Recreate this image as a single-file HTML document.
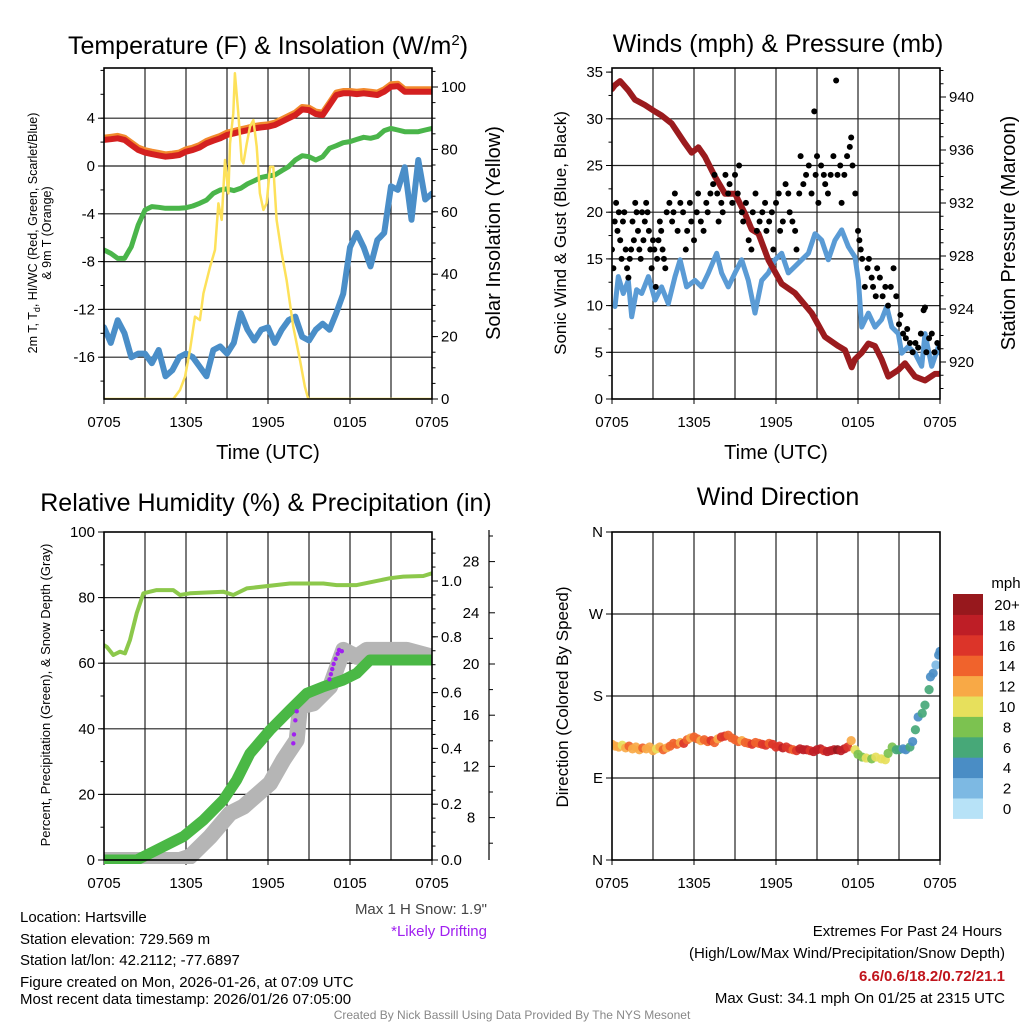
<!DOCTYPE html>
<html><head><meta charset="utf-8">
<style>
html,body{margin:0;padding:0;background:#fff;}
svg{display:block;font-family:"Liberation Sans",Arial,sans-serif;}
</style></head>
<body>
<svg id="root" width="1024" height="1024" viewBox="0 0 1024 1024" xmlns="http://www.w3.org/2000/svg">
<defs>
<clipPath id="c1"><rect x="104" y="68" width="328" height="331"/></clipPath>
<clipPath id="c2"><rect x="612" y="68" width="328" height="331"/></clipPath>
<clipPath id="c3"><rect x="104" y="527" width="328" height="337"/></clipPath>
<clipPath id="c4"><rect x="612" y="527" width="328" height="337"/></clipPath>
</defs>
<rect x="0" y="0" width="1024" height="1024" fill="#fff"/>
<g id="layer"></g>

<text x="268" y="54" font-size="25" text-anchor="middle">Temperature (F) &amp; Insolation (W/m<tspan dy="-9" font-size="15">2</tspan><tspan dy="9">)</tspan></text>
<text x="778" y="52" font-size="25" text-anchor="middle">Winds (mph) &amp; Pressure (mb)</text>
<text x="266" y="511" font-size="25" text-anchor="middle">Relative Humidity (%) &amp; Precipitation (in)</text>
<text x="778" y="505" font-size="25" text-anchor="middle">Wind Direction</text>

<text x="268" y="459" font-size="20" text-anchor="middle">Time (UTC)</text>
<text x="776" y="459" font-size="20" text-anchor="middle">Time (UTC)</text>

<text transform="translate(37,233) rotate(-90)" font-size="12.5" text-anchor="middle">2m T, T<tspan dy="3" font-size="9">d</tspan><tspan dy="-3">, HI/WC (Red, Green, Scarlet/Blue)</tspan></text>
<text transform="translate(51,233) rotate(-90)" font-size="12.5" text-anchor="middle">&amp; 9m T (Orange)</text>
<text transform="translate(500,233) rotate(-90)" font-size="20" text-anchor="middle">Solar Insolation (Yellow)</text>
<text transform="translate(566,233) rotate(-90)" font-size="17" text-anchor="middle">Sonic Wind &amp; Gust (Blue, Black)</text>
<text transform="translate(1015,233) rotate(-90)" font-size="20" text-anchor="middle">Station Pressure (Maroon)</text>
<text transform="translate(50,695) rotate(-90)" font-size="13" text-anchor="middle">Percent, Precipitation (Green), &amp; Snow Depth (Gray)</text>
<text transform="translate(568,697) rotate(-90)" font-size="17" text-anchor="middle">Direction (Colored By Speed)</text>

<text x="487" y="914" font-size="15" fill="#444" text-anchor="end">Max 1 H Snow: 1.9"</text>
<text x="487" y="936" font-size="15" fill="#a020f0" text-anchor="end">*Likely Drifting</text>

<g font-size="15">
<text x="20" y="922">Location: Hartsville</text>
<text x="20" y="944">Station elevation: 729.569 m</text>
<text x="20" y="965">Station lat/lon: 42.2112; -77.6897</text>
<text x="20" y="987">Figure created on Mon, 2026-01-26, at 07:09 UTC</text>
<text x="20" y="1004">Most recent data timestamp: 2026/01/26 07:05:00</text>
</g>
<g font-size="15" text-anchor="end">
<text x="1002" y="936">Extremes For Past 24 Hours</text>
<text x="1005" y="958">(High/Low/Max Wind/Precipitation/Snow Depth)</text>
<text x="1005" y="981" fill="#c0141c" font-weight="bold">6.6/0.6/18.2/0.72/21.1</text>
<text x="1005" y="1003">Max Gust: 34.1 mph On 01/25 at 2315 UTC</text>
</g>
<text x="512" y="1019" font-size="12" fill="#888" text-anchor="middle">Created By Nick Bassill Using Data Provided By The NYS Mesonet</text>
</svg>

<script>
// ---------- Data ----------
const halfHours = [0,0.5,1,1.5,2,2.5,3,3.5,4,4.5,5,5.5,6,6.5,7,7.5,8,8.5,9,9.5,10,10.5,11,11.5,12,12.5,13,13.5,14,14.5,15,15.5,16,16.5,17,17.5,18,18.5,19,19.5,20,20.5,21,21.5,22,22.5,23,23.5,24];
const timeTickLabels = ['0705','1305','1905','0105','0705'];
const tempRed = [2.18,2.24,2.32,2.18,1.76,1.34,1.12,1.0,0.89,0.78,0.84,0.92,1.2,1.34,1.56,1.9,2.12,2.32,2.6,2.73,2.87,3.0,3.15,3.23,3.29,3.43,3.71,3.99,4.27,4.74,4.68,4.35,4.27,5.1,5.94,6.08,6.08,6.02,6.08,6.02,5.94,6.22,6.64,6.69,6.22,6.22,6.22,6.22,6.22];
const temp9mOrange = [2.38,2.44,2.52,2.38,1.96,1.54,1.32,1.2,1.09,0.98,1.04,1.12,1.4,1.54,1.76,2.1,2.32,2.52,2.8,2.93,3.07,3.2,3.35,3.43,3.49,3.63,3.91,4.19,4.47,4.94,4.88,4.55,4.47,5.3,6.14,6.28,6.28,6.22,6.28,6.22,6.14,6.42,6.84,6.89,6.42,6.42,6.42,6.42,6.42];
const dewGreen = [-7.03,-7.31,-7.73,-7.73,-6.75,-4.94,-3.68,-3.4,-3.46,-3.54,-3.54,-3.54,-3.49,-3.35,-3.12,-2.85,-2.29,-2.01,-1.92,-2.06,-1.87,-1.5,-1.23,-0.95,-0.84,-0.75,-0.39,-0.06,0.5,0.86,0.78,0.5,0.78,1.48,1.7,1.95,2.04,2.23,2.4,2.32,2.46,2.96,3.15,3.01,2.87,2.87,2.87,3.01,3.15];
const windChillBlue = [-13.5,-14.8,-12.9,-14.0,-16.0,-15.7,-15.7,-16.5,-15.4,-17.6,-17.1,-16.0,-15.7,-16.0,-16.8,-17.6,-15.4,-15.1,-15.7,-14.8,-12.3,-13.7,-14.6,-13.7,-13.5,-14.8,-13.7,-12.9,-12.6,-14.3,-14.6,-13.7,-13.2,-13.7,-12.3,-10.7,-6.8,-5.6,-6.8,-8.4,-6.2,-5.6,-1.7,-2.0,-0.1,-4.5,0.5,-2.8,-2.3];
const solarHours = [0,5.07,5.56,5.93,6.29,6.66,7.02,7.27,7.76,8.12,8.37,8.61,8.85,9.1,9.22,9.46,9.58,9.83,10.07,10.2,10.44,10.68,10.93,11.17,11.41,11.66,11.9,12.15,12.39,12.63,13.0,13.36,13.85,14.34,14.7,14.95,24];
const solarVals = [0,0,2.9,7.1,15.7,26.4,25.3,33.8,42.4,47.8,62.7,57.4,76.6,65.9,81.8,91.6,104.4,91.6,76.6,75.5,81.8,87.3,89.4,80.9,65.9,60.6,62.7,74.4,74.4,57.4,46.7,38.1,23.1,12.4,3.9,0,0];
const tempTicks = [-16,-12,-8,-4,0,4];
const solarTicks = [0,20,40,60,80,100];

const pressHours = [0,0.22,0.59,1.19,1.68,2.41,3.15,3.63,4.37,5.34,5.83,6.32,6.8,7.53,8.27,9.0,9.73,10.22,10.71,11.44,12.42,13.39,14.61,15.58,16.56,17.05,17.54,17.78,18.27,18.76,19.24,19.73,20.22,20.95,21.44,22.17,22.9,23.63,24];
const pressVals = [940.6,940.9,941.2,940.5,939.8,939.4,938.9,938.6,938.0,936.5,935.8,936.2,935.5,934.0,932.7,932.7,931.2,930.0,929.7,927.7,925.9,925.2,923.7,921.9,921.2,920.9,919.6,920.2,920.7,921.4,921.2,920.2,918.9,919.4,919.9,918.9,918.6,919.1,919.1];
const windHours = [0.22,0.46,0.83,1.19,1.44,1.80,2.17,2.66,3.15,3.63,4.12,4.61,4.98,5.46,6.07,6.56,7.05,7.66,8.02,8.51,9.0,9.49,9.97,10.46,10.95,11.44,11.93,12.42,12.90,13.39,13.88,14.37,14.85,15.34,15.83,16.32,16.81,17.30,17.78,18.03,18.27,18.76,19.24,19.73,20.10,20.47,20.95,21.20,21.68,22.17,22.66,22.9,23.39,23.88,24];
const windVals = [9.9,13.1,11.3,12.7,8.8,11.7,11.3,13.1,10.6,12.0,10.2,13.1,14.9,12.0,12.7,12.0,13.5,15.6,13.5,12.0,13.5,14.9,12.7,9.2,12.7,13.5,14.9,15.6,13.5,14.2,14.9,15.6,17.7,17.0,14.9,17.0,18.1,16.3,15.2,12.7,7.7,9.2,7.7,8.5,9.9,7.7,7.0,4.9,5.6,4.9,3.5,7.0,3.5,5.6,4.9];
const gustHours = [0.0,0.1,0.2,0.3,0.4,0.5,0.6,0.7,0.8,0.9,1.0,1.1,1.2,1.3,1.4,1.5,1.6,1.7,1.8,1.9,2.0,2.1,2.2,2.3,2.4,2.5,2.6,2.7,2.8,2.9,3.0,3.1,3.2,3.3,3.4,3.5,3.6,3.7,3.8,3.9,4.0,4.2,4.4,4.5,4.6,4.8,5.0,5.2,5.4,5.5,5.7,5.8,6.0,6.2,6.3,6.5,6.7,6.9,7.0,7.2,7.4,7.5,7.7,7.8,8.0,8.1,8.3,8.5,8.6,8.8,9.0,9.2,9.3,9.5,9.6,9.8,10.0,10.2,10.3,10.5,10.6,10.8,11.0,11.2,11.3,11.5,11.7,11.8,12.0,12.2,12.3,12.5,12.7,12.9,13.0,13.2,13.4,13.5,13.7,13.8,14.0,14.2,14.4,14.6,14.8,14.9,15.0,15.1,15.3,15.5,15.6,15.8,16.0,16.2,16.4,16.5,16.7,16.8,17.0,17.2,17.4,17.5,17.6,17.8,18.0,18.1,18.2,18.3,18.5,18.7,18.8,19.0,19.1,19.3,19.4,19.6,19.8,20.0,20.2,20.4,20.6,20.8,21.0,21.1,21.3,21.5,21.6,21.8,22.0,22.2,22.4,22.6,22.8,22.9,23.0,23.2,23.4,23.6,23.8,24.0];
const gustVals = [16,14,19,21,18,20,17,15,19,20,16,14,13,15,16,19,17,21,20,18,16,15,20,17,19,21,20,18,16,14,17,16,12,15,17,19,18,16,15,14,20,21,19,20,22,18,21,20,16,18,21,19,17,20,22,19,18,21,20,22,23,24,22,19,21,20,24,22,23,21,24,22,25,20,19,21,17,16,20,22,18,19,20,21,18,19,20,16,21,22,18,19,23,22,20,19,18,16,22,26,23,24,25,22,30.8,24,26,21,25,24,23,22,24,26,34.1,24,25,21,24,26,27,28,25,22,18,17,16,15,12,14,15,13,12,11,14,13,11,12,10,12,14,11,8,9,7,6.5,7.5,6,5,6,5.5,7,9.5,9.8,5,6.5,7,5,6,5.5];
const windTicks = [0,5,10,15,20,25,30,35];
const pressTicks = [920,924,928,932,936,940];

const rhHours = [0,0.2,0.68,1.17,1.54,1.9,2.39,2.88,3.85,5.07,5.56,6.29,8.73,9.46,10.44,13.6,16.05,17.02,18.49,20.93,21.9,23.36,24];
const rhVals = [65.5,65.0,62.5,63.5,63.0,67.1,75.2,81.3,82.3,82.3,80.8,81.3,81.8,80.8,82.8,84.3,84.3,83.8,83.8,85.9,86.4,86.6,87.4];
const precipHours = [0,2.39,3.85,5.8,7.27,8.73,9.71,10.68,12.15,13.61,14.83,16.05,17.51,18.49,19.46,24];
const precipVals = [0,0,0.036,0.084,0.143,0.215,0.287,0.382,0.466,0.538,0.597,0.621,0.645,0.669,0.717,0.717];
const snowHours = [0,5.56,6.29,7.76,9.22,10.2,12.15,13.12,14.1,14.34,15.32,16.54,17.51,18.49,19.22,22.15,24];
const snowVals = [4.69,4.69,4.95,6.5,8.33,8.85,10.68,12.5,14.06,16.67,16.93,18.23,21.1,20.57,21.1,21.1,20.57];
const driftHours = [13.85,13.9,14.0,14.1,16.5,16.6,16.7,16.8,16.95,17.1,17.2,17.4];
const driftSnow = [13.8,14.5,15.6,16.3,18.8,19.2,19.6,20.0,20.4,20.8,21.1,21.0];
const rhTicks = [0,20,40,60,80,100];
const precipTicks = [0.0,0.2,0.4,0.6,0.8,1.0];
const snowTicks = [8,12,16,20,24,28];

const dirHours = [0,0.25,0.5,0.75,1,1.25,1.5,1.75,2,2.25,2.5,2.75,3,3.25,3.5,3.75,4,4.25,4.5,4.75,5,5.25,5.5,5.75,6,6.25,6.5,6.75,7,7.25,7.5,7.75,8,8.25,8.5,8.75,9,9.25,9.5,9.75,10,10.25,10.5,10.75,11,11.25,11.5,11.75,12,12.25,12.5,12.75,13,13.25,13.5,13.75,14,14.25,14.5,14.75,15,15.25,15.5,15.75,16,16.25,16.5,16.75,17,17.25,17.5,17.78,18.0,18.3,18.6,19.0,19.3,19.7,20.0,20.2,20.5,20.8,21.0,21.3,21.5,21.8,22.0,22.2,22.4,22.7,22.9,23.2,23.3,23.5,23.7,23.9,24.0];
const dirVals = [127,125,124,126,123,125,122,124,121,123,122,124,120,122,124,121,123,125,128,127,129,128,132,134,135,133,131,132,130,131,129,133,135,136,137,134,132,130,131,129,128,127,129,128,127,126,128,127,124,125,123,124,122,121,120,122,121,121,120,119,121,122,120,119,120,121,121,120,122,124,131,121,116,113,112,111,113,111,110,117,124,121,121,122,121,124,130,143,157,161,170,187,201,205,214,225,229];
const dirSpeeds = [11,12,11,10,12,13,12,11,12,13,11,12,12,10,12,13,12,13,14,13,12,15,13,12,14,13,12,13,14,15,13,12,15,16,14,13,14,13,12,13,14,15,14,13,16,15,14,16,15,16,17,16,15,14,16,17,18,17,16,17,18,17,16,18,17,18,19,18,17,16,12,9,8,8,9,8,9,10,9,8,7,6,5,4,4,5,4,5,4,6,6,5,4,4,2,3,4,3];
const speedBins = ['0','2','4','6','8','10','12','14','16','18','20+'];
const speedColors = ['#b7e2f7','#7db9e3','#4a8dc5','#47a878','#7cc250','#e7e05c','#f8a946','#f0632c','#dc3429','#be1e26','#97181d'];
const dirTicks = ['N','E','S','W','N'];

// ---------- Helpers ----------
const NS = 'http://www.w3.org/2000/svg';
const layer = document.getElementById('layer');
function mk(parent, tag, attrs) {
  const el = document.createElementNS(NS, tag);
  for (const k in attrs) el.setAttribute(k, attrs[k]);
  parent.appendChild(el);
  return el;
}
function tx(h, x0) { return x0 + h * 13.667; }
const p1T = v => 166 - v * 11.95;
const p1S = v => 399 - v * 3.12;
const p2W = v => 399 - v * 9.34;
const p2P = v => 362 - (v - 920) * 13.25;
const p3R = v => 860 - v * 3.28;
const p3P = v => 860 - v * 279;
const p3S = v => 920 - v * 12.8;
const p4D = v => 860 - v * 0.9111;
function pathD(hours, vals, x0, fy) {
  return hours.map((h, i) => (i ? 'L' : 'M') + tx(h, x0).toFixed(1) + ',' + fy(vals[i]).toFixed(1)).join('');
}
function speedColor(s) { let i = Math.min(10, Math.max(0, Math.round(s / 2))); return speedColors[i]; }

// ---------- Panel frames & grids ----------
function panelBase(x0, y0, h, hGridYs, name) {
  const g = mk(layer, 'g', {});
  
  
  for (let k = 1; k < 8; k++) {
    const x = x0 + k * 41;
    const ln = mk(g, 'line', {x1: x, x2: x, y1: y0, y2: y0 + h, stroke: '#222', 'stroke-width': 1.2});
    
    
  }
  hGridYs.forEach(y => {
    const ln = mk(g, 'line', {x1: x0, x2: x0 + 328, y1: y, y2: y, stroke: '#222', 'stroke-width': 1.2});
    
    
  });
  timeTickLabels.forEach((lab, i) => {
    const x = x0 + i * 82;
    const t = mk(g, 'text', {x: x, y: y0 + h + 28, 'font-size': 15, 'text-anchor': 'middle'});
    t.textContent = lab;
    
    
    const tk = mk(g, 'line', {x1: x, x2: x, y1: y0 + h, y2: y0 + h + 5, stroke: '#000', 'stroke-width': 1});
    
    
  });
}
function frame(x0, y0, h, name) {
  const r = mk(layer, 'rect', {x: x0, y: y0, width: 328, height: h, fill: 'none', stroke: '#000', 'stroke-width': 1.6});
  
  
}
function yAxis(ticks, fy, xAxis, side, labels, minorStep, lo, hi, name, fmt) {
  const g = mk(layer, 'g', {});
  
  
  const dir = side === 'left' ? -1 : 1;
  ticks.forEach((v, i) => {
    const y = fy(v);
    const tk = mk(g, 'line', {x1: xAxis, x2: xAxis + dir * 6, y1: y, y2: y, stroke: '#000', 'stroke-width': 1});
    
    
    const t = mk(g, 'text', {x: side === 'left' ? xAxis - 9 : xAxis + 9, y: y + 5, 'font-size': 15, 'text-anchor': side === 'left' ? 'end' : 'start'});
    t.textContent = labels ? labels[i] : (fmt ? fmt(v) : v);
    
    
  });
  if (minorStep) {
    for (let v = lo; v <= hi + 1e-9; v += minorStep) {
      const y = fy(v);
      const tk = mk(g, 'line', {x1: xAxis, x2: xAxis + dir * 3.5, y1: y, y2: y, stroke: '#000', 'stroke-width': 1});
      
      
    }
  }
}

// ---------- Panel 1 ----------
panelBase(104, 68, 331, tempTicks.map(p1T), 'temp-panel');
{
  const g = mk(layer, 'g', {'clip-path': 'url(#c1)', fill: 'none', 'stroke-linejoin': 'round', 'stroke-linecap': 'round'});
  
  
  let l;
  l = mk(g, 'path', {d: pathD(halfHours, windChillBlue, 104, p1T), stroke: '#4a8ec8', 'stroke-width': 6});
  
  
  l = mk(g, 'path', {d: pathD(halfHours, dewGreen, 104, p1T), stroke: '#4ab54a', 'stroke-width': 5});
  
  
  l = mk(g, 'path', {d: pathD(halfHours, temp9mOrange, 104, p1T), stroke: '#f28a2e', 'stroke-width': 6});
  
  
  l = mk(g, 'path', {d: pathD(halfHours, tempRed, 104, p1T), stroke: '#d42020', 'stroke-width': 6});
  
  
  l = mk(g, 'path', {d: pathD(solarHours, solarVals, 104, p1S), stroke: '#fde15a', 'stroke-width': 2.5});
  
  
}
frame(104, 68, 331, 'temp-panel');
yAxis(tempTicks, p1T, 104, 'left', null, 2, -18, 8, 'temp-y-axis');
yAxis(solarTicks, p1S, 432, 'right', null, 5, 0, 105, 'solar-y-axis');

// ---------- Panel 2 ----------
panelBase(612, 68, 331, [5,10,15,20,25,30].map(p2W), 'winds-panel');
{
  const g = mk(layer, 'g', {'clip-path': 'url(#c2)', fill: 'none', 'stroke-linejoin': 'round', 'stroke-linecap': 'round'});
  
  
  let l = mk(g, 'path', {d: pathD(windHours, windVals, 612, p2W), stroke: '#5a9bd5', 'stroke-width': 5});
  
  
  l = mk(g, 'path', {d: pathD(pressHours, pressVals, 612, p2P), stroke: '#9b1b1e', 'stroke-width': 6});
  
  
  gustHours.forEach((h, i) => {
    const c = mk(g, 'circle', {cx: tx(h, 612), cy: p2W(gustVals[i]), r: 3, fill: '#000'});
    
    
  });
}
frame(612, 68, 331, 'winds-panel');
yAxis(windTicks, p2W, 612, 'left', null, 2.5, 0, 35, 'wind-y-axis');
yAxis(pressTicks, p2P, 940, 'right', null, 1, 918, 942, 'pressure-y-axis');

// ---------- Panel 3 ----------
panelBase(104, 532, 328, [20,40,60,80].map(p3R), 'rh-panel');
{
  const g = mk(layer, 'g', {'clip-path': 'url(#c3)', fill: 'none', 'stroke-linejoin': 'round', 'stroke-linecap': 'round'});
  
  
  let l = mk(g, 'path', {d: pathD(snowHours, snowVals, 104, p3S), stroke: '#b5b5b5', 'stroke-width': 16});
  
  
  l = mk(g, 'path', {d: pathD(precipHours, precipVals, 104, p3P), stroke: '#4ab845', 'stroke-width': 11});
  
  
  l = mk(g, 'path', {d: pathD(rhHours, rhVals, 104, p3R), stroke: '#8cc84b', 'stroke-width': 4});
  
  
  driftHours.forEach((h, i) => {
    const c = mk(g, 'circle', {cx: tx(h, 104), cy: p3S(driftSnow[i]), r: 2.2, fill: '#a020f0'});
    
    
  });
}
frame(104, 532, 328, 'rh-panel');
yAxis(rhTicks, p3R, 104, 'left', null, 10, 0, 100, 'rh-y-axis');
yAxis(precipTicks, p3P, 432, 'right', null, 0.05, 0, 1.15, 'precip-y-axis', v => v.toFixed(1));
{
  const ax = mk(layer, 'line', {x1: 489, x2: 489, y1: 530, y2: 860, stroke: '#000', 'stroke-width': 1.2});
  
  
  const g = mk(layer, 'g', {});
  
  
  snowTicks.forEach(v => {
    const y = p3S(v);
    const tk = mk(g, 'line', {x1: 489, x2: 495, y1: y, y2: y, stroke: '#000'});
    
    
    const t = mk(g, 'text', {x: 471, y: y + 5, 'font-size': 15, 'text-anchor': 'middle'});
    t.textContent = v;
    
    
  });
  for (let v = 6; v <= 30; v += 4) {
    const y = p3S(v);
    const tk = mk(g, 'line', {x1: 489, x2: 493, y1: y, y2: y, stroke: '#000'});
    
    
  }
}

// ---------- Panel 4 ----------
panelBase(612, 532, 328, [90,180,270].map(p4D), 'direction-panel');
{
  const g = mk(layer, 'g', {'clip-path': 'url(#c4)'});
  
  
  dirHours.forEach((h, i) => {
    const c = mk(g, 'circle', {cx: tx(h, 612), cy: p4D(dirVals[i]), r: 4.6, fill: speedColor(dirSpeeds[i]), 'fill-opacity': 0.92});
    
    
  });
}
frame(612, 532, 328, 'direction-panel');
yAxis([0,90,180,270,360], p4D, 612, 'left', dirTicks, 0, 0, 0, 'direction-y-axis');
{
  const g = mk(layer, 'g', {});
  
  
  const t0 = mk(g, 'text', {x: 1006, y: 588, 'font-size': 15, 'text-anchor': 'middle'});
  t0.textContent = 'mph';
  
  
  const boxH = 20.4;
  speedBins.forEach((lab, i) => {
    const y = 594 + (10 - i) * boxH;
    const r = mk(g, 'rect', {x: 953, y: y, width: 30, height: boxH + 0.5, fill: speedColors[i]});
    
    
    const t = mk(g, 'text', {x: 1007, y: y + 16, 'font-size': 15, 'text-anchor': 'middle'});
    t.textContent = lab;
    
    
  });
}
</script>
</body></html>
